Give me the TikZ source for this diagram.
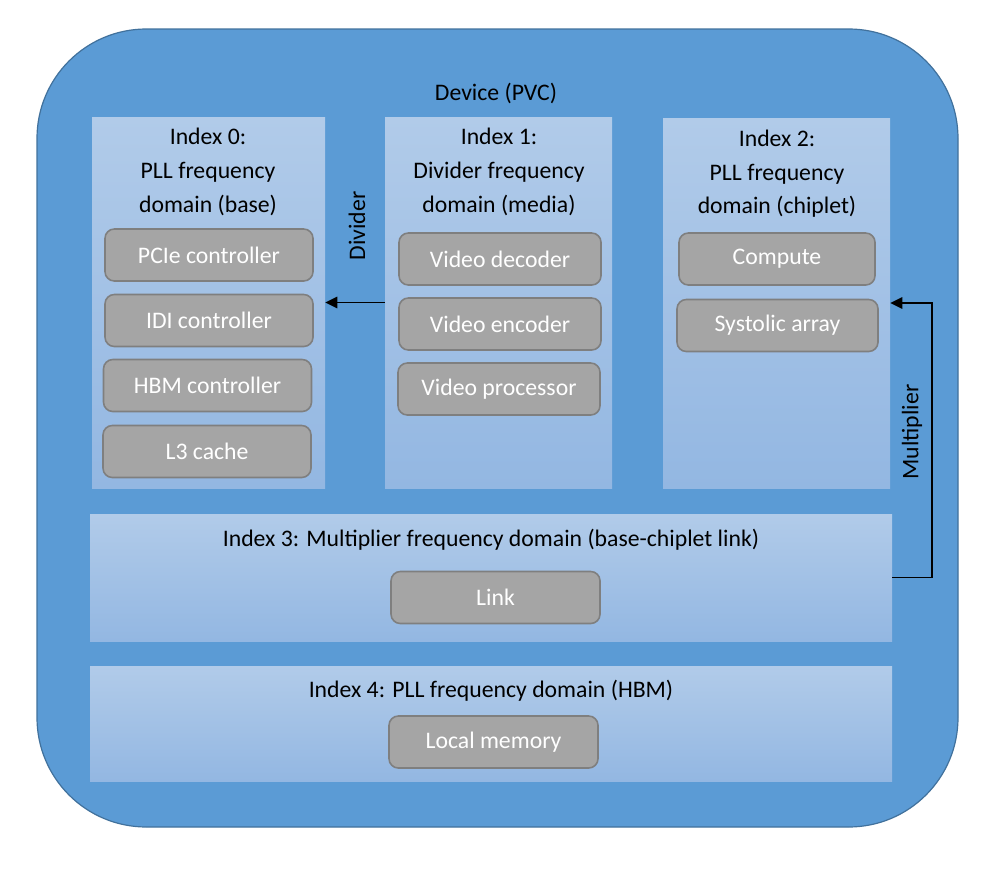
\documentclass[tikz,border=0pt]{standalone}
\usepackage{fontspec}
\setmainfont{Carlito}
\usepackage{tikz}
\usetikzlibrary{positioning, arrows.meta}
\definecolor{devfill}{HTML}{5B9BD5}
\definecolor{devline}{HTML}{41719C}
\definecolor{domtop}{HTML}{B1CBE9}
\definecolor{dombot}{HTML}{93B7E2}
\definecolor{unitfill}{HTML}{A5A5A5}
\definecolor{unitline}{HTML}{7F7F7F}
\tikzset{device/.style = {rectangle, rounded corners=82pt, fill=devfill, draw=devline, line width=0.9pt},
         dom/.style = {rectangle, top color=domtop, bottom color=dombot, draw=none},
         unit/.style = {rectangle, rounded corners=7pt, fill=unitfill, draw=unitline, line width=1.2pt,
                        minimum height=39pt, text=white},
         title/.style = {align=center, font=\fontsize{17.8}{25.2}\selectfont},
         flow/.style = {line width=1.4pt, -{Triangle[length=9pt, width=8.5pt]}}}

\begin{document}
\begin{tikzpicture}[x=0.75pt, y=-0.75pt, font=\fontsize{17.8}{21}\selectfont]
        \useasboundingbox (0, 0) rectangle (1000, 878);

        \node [device, minimum width=690.75pt, minimum height=598.5pt] (dev) at (497.5, 428) {};
        \node (devname) at (496, 93) {Device (PVC)};

        % index 0
        \node [dom, minimum width=174.75pt, minimum height=278.25pt] (dom0) at (208.5, 302.5) {};
        \node [title] (t0) at (208, 172) {Index 0:\\PLL frequency\\domain (base)};
        \node [unit, minimum width=156pt] (pcie) at (209, 255)   {PCIe controller};
        \node [unit, minimum width=156pt] (idi)  at (209, 320.5) {IDI controller};
        \node [unit, minimum width=156pt] (hbmc) at (207.5, 385.5) {HBM controller};
        \node [unit, minimum width=156pt] (l3)   at (207, 451.5) {L3 cache};

        % index 1
        \node [dom, minimum width=170.25pt, minimum height=278.25pt] (dom1) at (498.5, 302.5) {};
        \node [title] (t1) at (499, 172) {Index 1:\\Divider frequency\\domain (media)};
        \node [unit, minimum width=151.5pt] (vdec)  at (500, 259) {Video decoder};
        \node [unit, minimum width=151.5pt] (venc)  at (500, 324) {Video encoder};
        \node [unit, minimum width=151.5pt] (vproc) at (499, 389) {Video processor};

        % index 2
        \node [dom, minimum width=170.25pt, minimum height=277.5pt] (dom2) at (776.5, 303) {};
        \node [title] (t2) at (777, 174) {Index 2:\\PLL frequency\\domain (chiplet)};
        \node [unit, minimum width=147pt]    (comp) at (777, 259)   {Compute};
        \node [unit, minimum width=150.75pt] (sys)  at (777.5, 325.5) {Systolic array};

        % index 3 and 4
        \node [dom, minimum width=601.5pt, minimum height=95.25pt] (dom3) at (491, 577.5) {};
        \node (t3) at (491, 540) {Index 3: Multiplier frequency domain (base-chiplet link)};
        \node [unit, minimum width=156.75pt] (link) at (495.5, 597.5) {Link};

        \node [dom, minimum width=601.5pt, minimum height=86.25pt] (dom4) at (491, 723.5) {};
        \node (t4) at (491, 691) {Index 4: PLL frequency domain (HBM)};
        \node [unit, minimum width=156.75pt] (mem) at (493.5, 742) {Local memory};

        % clock relations
        \draw [flow] (dom1) -- (dom0);
        \node [rotate=90] (div) at (357, 226) {Divider};
        \draw [flow] (dom3.east) -- ++(30pt, 0) |- (dom2.east);
        \node [rotate=90] (mul) at (912, 432) {Multiplier};
    \end{tikzpicture}
\end{document}
